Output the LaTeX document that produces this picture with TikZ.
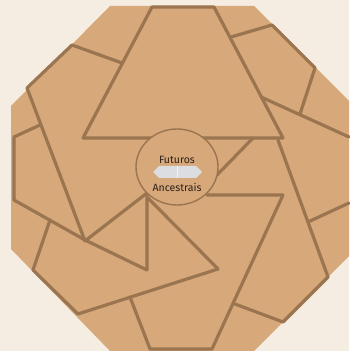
\documentclass[tikz,border=0pt]{standalone}
\usepackage{fontspec}
\setsansfont{Fira Sans}
\usetikzlibrary{calc}
\definecolor{creambg}{HTML}{F5EDE2}
\definecolor{claytan}{HTML}{D6A87A}
\definecolor{claybrown}{HTML}{9A7550}
\definecolor{pastelgray}{HTML}{DCDDE0}
\definecolor{inkbrown}{HTML}{2E211B}

\begin{document}
\begin{tikzpicture}[x=0.25mm, y=-0.25mm,
  seam/.style={draw=claybrown, line width=0.8mm, line join=round, line cap=round},
  label/.style={font=\sffamily\fontsize{7.5}{8}\selectfont, text=inkbrown}]
\fill[creambg] (0,0) rectangle (349,351);
\useasboundingbox (0,0) rectangle (349,351);
\fill[claytan] (110,6) -- (254,6) -- (349,101) -- (349,256) -- (254,351) -- (110,351) -- (11,249) -- (11,106) -- cycle;
\draw[seam] (152,7) -- (214,7) -- (283,138) -- (83,138) -- cycle;
\draw[seam] (122,63) -- (72,45) -- (27,88) -- (85,241) -- (147,193);
\draw[seam] (40,125) -- (14,137) -- (14,200) -- (85,240) -- (147,270) -- (147,195);
\draw[seam] (148,198) -- (218,269) -- (78,314) -- (33,270) -- (50,220);
\draw[seam] (130,297) -- (150,349) -- (212,349) -- (283,195) -- (207,195);
\draw[seam] (235,304) -- (283,322) -- (328,277) -- (278,140);
\draw[seam] (308,222) -- (349,203);
\draw[seam] (261,97) -- (349,137);
\draw[seam] (231,37) -- (272,25) -- (315,68) -- (300,114);
\draw[seam] (217,175) -- (253,138);
\draw[draw=claybrown, line width=0.35mm, fill=claytan] (177,167) circle[x radius=41, y radius=38];
\fill[pastelgray] (153,172) -- (159,166) -- (196,166) -- (202,172) -- (196,178) -- (159,178) -- cycle;
\draw[pastelgray!40!white, line width=0.15mm] (177,166) -- (177,178);
\node[label] (futuros) at (177,160) {Futuros};
\node[label] (ancestrais) at (177,187) {Ancestrais};
\end{tikzpicture}
\end{document}
